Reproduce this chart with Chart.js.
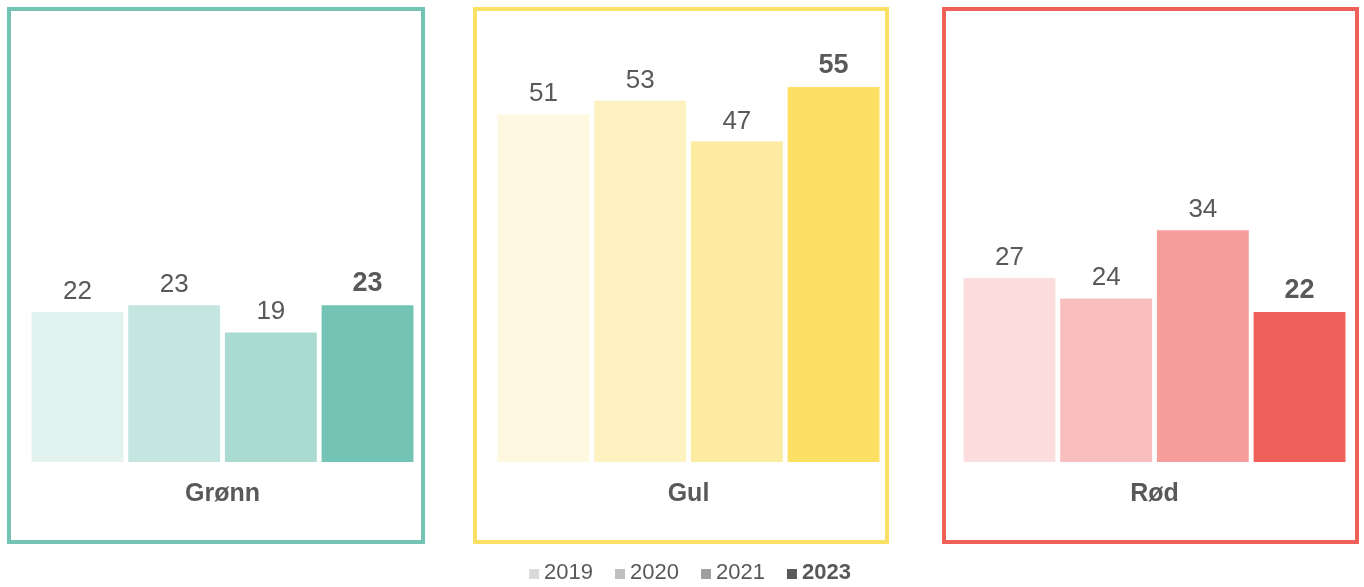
<!DOCTYPE html>
<html>
<head>
<meta charset="utf-8">
<script src="https://cdn.jsdelivr.net/npm/chart.js@4.4.1/dist/chart.umd.min.js"></script>
<style>
  html, body { margin: 0; padding: 0; background: #ffffff; }
  #wrap { position: relative; width: 1364px; height: 587px; }
</style>
</head>
<body>
<div id="wrap"><canvas id="c" width="1364" height="587"></canvas></div>
<script>
// ---- data ----
const categories = ['Grønn', 'Gul', 'Rød'];
const years = ['2019', '2020', '2021', '2023'];
const values2019 = [22, 51, 27];
const values2020 = [23, 53, 24];
const values2021 = [19, 47, 34];
const values2023 = [23, 55, 22];

// ---- styles ----
const FONT = '"Liberation Sans", Arial, Helvetica, sans-serif';
const TEXT = '#595959';
const boxColors = ['#73C4B5', '#FBE066', '#EF605A'];
const boxInsetLeft = [215.5, 215.5, 212.5];
const boxInsetRight = [202.5, 200.5, 204.5];
const shades = [
  ['#E2F2EE', '#FEF8E0', '#FCDDDE'],
  ['#C5E6E0', '#FEF2C1', '#F8BFBE'],
  ['#A9DBD0', '#FDEBA2', '#F59E9B'],
  ['#73C4B5', '#FCE063', '#EF605A']
];
const legendColors = ['#D9D9D9', '#BFBFBF', '#A0A0A0', '#595959'];
const series = [values2019, values2020, values2021, values2023];

const boxesPlugin = {
  id: 'boxes',
  beforeDatasetsDraw(chart) {
    const ctx = chart.ctx;
    const xs = chart.scales.x;
    ctx.save();
    ctx.lineWidth = 4;
    categories.forEach((c, i) => {
      const cx = xs.getPixelForValue(i);
      const l = cx - boxInsetLeft[i] + 2;
      const r = cx + boxInsetRight[i] - 2;
      ctx.strokeStyle = boxColors[i];
      ctx.strokeRect(l, 9, r - l, 533);
    });
    ctx.restore();
  }
};

const labelsPlugin = {
  id: 'valueLabels',
  afterDatasetsDraw(chart) {
    const ctx = chart.ctx;
    ctx.save();
    ctx.fillStyle = TEXT;
    ctx.textAlign = 'center';
    ctx.textBaseline = 'alphabetic';
    chart.data.datasets.forEach((ds, di) => {
      const meta = chart.getDatasetMeta(di);
      const bold = di === 3;
      ctx.font = (bold ? 'bold 27px ' : '26px ') + FONT;
      meta.data.forEach((el, i) => {
        ctx.fillText(String(ds.data[i]), el.x, el.y - (bold ? 14 : 13));
      });
    });
    ctx.restore();
  }
};

const legendPlugin = {
  id: 'customLegend',
  afterDraw(chart) {
    const ctx = chart.ctx;
    ctx.save();
    const box = 10, gapText = 5, gapItem = 22, y = 573;
    const items = years.map((yr, i) => {
      const font = (i === 3 ? 'bold 22px ' : '22px ') + FONT;
      ctx.font = font;
      return { yr, font, w: ctx.measureText(yr).width, color: legendColors[i] };
    });
    let total = 0;
    items.forEach((it, i) => { total += box + gapText + it.w + (i < items.length - 1 ? gapItem : 0); });
    let x = 690 - total / 2;
    ctx.textBaseline = 'middle';
    ctx.textAlign = 'left';
    items.forEach(it => {
      ctx.fillStyle = it.color;
      ctx.fillRect(x, y - 4, box, box);
      x += box + gapText;
      ctx.font = it.font;
      ctx.fillStyle = TEXT;
      ctx.fillText(it.yr, x, y);
      x += it.w + gapItem;
    });
    ctx.restore();
  }
};

new Chart(document.getElementById('c'), {
  type: 'bar',
  data: {
    labels: categories,
    datasets: years.map((yr, i) => ({
      label: yr,
      data: series[i],
      backgroundColor: shades[i],
      borderWidth: 0,
      clip: false,
      categoryPercentage: 0.83,
      barPercentage: 0.95
    }))
  },
  options: {
    responsive: false,
    animation: false,
    devicePixelRatio: 1,
    layout: { padding: { left: 222.5, right: 209.5, top: 53, bottom: 85 } },
    plugins: { legend: { display: false }, tooltip: { enabled: false } },
    scales: {
      x: {
        type: 'category',
        offset: false,
        grid: { display: false, drawTicks: false },
        border: { display: false },
        afterFit(scale) { scale.height = 40; },
        ticks: { color: TEXT, font: { family: FONT, size: 25, weight: 'bold' }, padding: 17, maxRotation: 0, autoSkip: false }
      },
      y: {
        display: false,
        min: 0,
        max: 60
      }
    }
  },
  plugins: [boxesPlugin, labelsPlugin, legendPlugin]
});
</script>
</body>
</html>
